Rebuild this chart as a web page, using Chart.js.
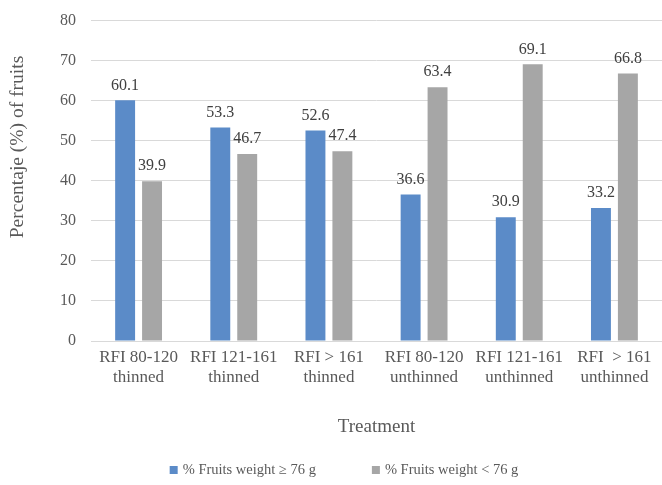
<!DOCTYPE html>
<html>
<head>
<meta charset="utf-8">
<script src="https://cdn.jsdelivr.net/npm/chart.js@4"></script>
<style>
  html, body { margin: 0; padding: 0; background: #fff; }
  #wrap { width: 662px; height: 485px; }
</style>
</head>
<body>
<div id="wrap"><canvas id="chart" width="662" height="485"></canvas></div>
<script>
const treatments = [
    ['RFI 80-120', 'thinned'],
    ['RFI 121-161', 'thinned'],
    ['RFI > 161', 'thinned'],
    ['RFI 80-120', 'unthinned'],
    ['RFI 121-161', 'unthinned'],
    ['RFI  > 161', 'unthinned']
];
const heavyFruits = [60.1, 53.3, 52.6, 36.6, 30.9, 33.2];
const lightFruits = [39.9, 46.7, 47.4, 63.4, 69.1, 66.8];
const seriesNames = ['% Fruits weight \u2265 76 g', '% Fruits weight < 76 g'];
const yTitle = 'Percentaje (%) of fruits';

const serif = "'Liberation Serif', 'DejaVu Serif', serif";

// draws the value above each bar
const valueLabels = {
    id: 'valueLabels',
    afterDatasetsDraw(chart) {
        const ctx = chart.ctx;
        ctx.save();
        ctx.font = '16px ' + serif;
        ctx.fillStyle = '#404040';
        ctx.textAlign = 'center';
        ctx.textBaseline = 'bottom';
        chart.data.datasets.forEach((ds, i) => {
            chart.getDatasetMeta(i).data.forEach((bar, j) => {
                ctx.fillText(ds.data[j].toFixed(1), bar.x, bar.y - 7);
            });
        });
        ctx.restore();
    }
};

// y title sits above the middle of the axis in the original
const sideTitle = {
    id: 'sideTitle',
    afterDraw(chart) {
        const ctx = chart.ctx;
        ctx.save();
        ctx.translate(18, 147);
        ctx.rotate(-Math.PI / 2);
        ctx.font = '19.5px ' + serif;
        ctx.fillStyle = '#595959';
        ctx.textAlign = 'center';
        ctx.textBaseline = 'middle';
        ctx.fillText(yTitle, 0, 0);
        ctx.restore();
    }
};

// legend at the bottom with wide gap between the two items
const bottomLegend = {
    id: 'bottomLegend',
    afterDraw(chart) {
        const ctx = chart.ctx;
        const box = 8, gapText = 5, gapItems = 56, y = 470;
        ctx.save();
        ctx.font = '14.5px ' + serif;
        ctx.textBaseline = 'middle';
        const items = chart.data.datasets.map(ds => ({
            text: ds.label,
            color: ds.backgroundColor,
            w: box + gapText + ctx.measureText(ds.label).width
        }));
        const total = items.reduce((s, it) => s + it.w, 0) + gapItems * (items.length - 1);
        let x = (chart.width - total) / 2 + 13;
        items.forEach(it => {
            ctx.fillStyle = it.color;
            ctx.fillRect(x, y - box / 2, box, box);
            ctx.fillStyle = '#595959';
            ctx.fillText(it.text, x + box + gapText, y);
            x += it.w + gapItems;
        });
        ctx.restore();
    }
};

new Chart(document.getElementById('chart').getContext('2d'), {
    type: 'bar',
    data: {
        labels: treatments,
        datasets: [{
            label: seriesNames[0],
            data: heavyFruits,
            backgroundColor: '#5b8bc8',
            categoryPercentage: 0.566,
            barPercentage: 0.74
        }, {
            label: seriesNames[1],
            data: lightFruits,
            backgroundColor: '#a6a6a6',
            categoryPercentage: 0.566,
            barPercentage: 0.74
        }]
    },
    options: {
        responsive: false,
        animation: false,
        layout: { padding: { top: 20.7, right: 0, left: 7, bottom: 46.6 } },
        plugins: {
            tooltip: { enabled: false },
            legend: { display: false }
        },
        scales: {
            x: {
                grid: { display: false, drawTicks: false },
                border: { color: '#d9d9d9' },
                ticks: {
                    font: { family: serif, size: 17, lineHeight: 1.15 },
                    color: '#595959',
                    padding: 7,
                    maxRotation: 0,
                    autoSkip: false
                },
                title: {
                    display: true,
                    text: 'Treatment',
                    font: { family: serif, size: 19 },
                    color: '#595959',
                    padding: { top: 21.5, bottom: 0 }
                }
            },
            y: {
                min: 0,
                max: 80,
                afterFit(scale) {
                    scale.width = 84;
                    scale.paddingTop = 0;
                    scale.paddingBottom = 0;
                },
                ticks: {
                    stepSize: 10,
                    font: { family: serif, size: 16 },
                    color: '#595959',
                    padding: 15
                },
                grid: { color: '#d9d9d9', drawTicks: false },
                border: { display: false }
            }
        }
    },
    plugins: [valueLabels, sideTitle, bottomLegend]
});
</script>
</body>
</html>
